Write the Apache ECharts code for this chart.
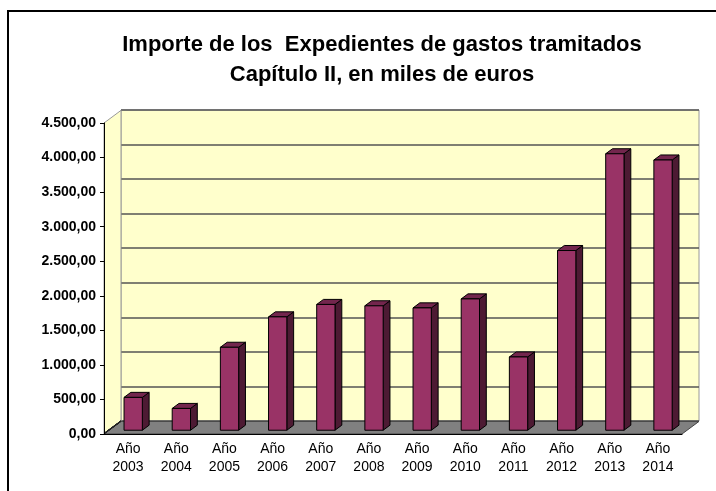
<!DOCTYPE html>
<html>
<head>
<meta charset="utf-8">
<script src="https://cdn.jsdelivr.net/npm/echarts@6/dist/echarts.min.js"></script>
<style>
  html, body { margin: 0; padding: 0; background: #fff; }
  #chart { width: 716px; height: 491px; }
</style>
</head>
<body>
<div id="chart"></div>
<script>
// datos
const years = ['Año\n2003', 'Año\n2004', 'Año\n2005', 'Año\n2006', 'Año\n2007', 'Año\n2008',
               'Año\n2009', 'Año\n2010', 'Año\n2011', 'Año\n2012', 'Año\n2013', 'Año\n2014'];
const importes = [475, 315, 1200, 1640, 1820, 1800, 1770, 1900, 1060, 2600, 4000, 3910];
const yTicks = [0, 500, 1000, 1500, 2000, 2500, 3000, 3500, 4000, 4500];

// fake 3d: offset from the front plane to the back wall
const DX = 17, DY = -12.6;
const BAR_FRONT = 0.3, BAR_DEPTH = 0.4;
const FONT = '"Liberation Sans", Arial, sans-serif';

const fmt = v => {
    const s = String(Math.round(v)).replace(/\B(?=(\d{3})+(?!\d))/g, '.');
    return s + ',00';
};

const renderFrame = (params, api) => {
    const cs = params.coordSys;
    const x0 = cs.x, x1 = cs.x + cs.width, top = cs.y, bot = cs.y + cs.height;
    return {
        type: 'group',
        children: [
            {
                type: 'polygon',
                shape: {points: [[x0, top], [x0, bot], [x0 + DX, bot + DY], [x0 + DX, top + DY]]},
                style: {fill: '#FFFFCC', stroke: '#999', lineWidth: 1}
            },
            {
                type: 'polygon',
                shape: {points: [[x0, bot], [x1, bot], [x1 + DX, bot + DY], [x0 + DX, bot + DY]]},
                style: {fill: '#808080', stroke: '#444', lineWidth: 1}
            }
        ]
    };
};

const renderDepthLine = (params, api) => {
    const v = api.value(0);
    if (v === 0 || v === 4500) return null;
    const x = params.coordSys.x;
    const y = api.coord([0, v])[1];
    return {
        type: 'line',
        shape: {x1: x, y1: y, x2: x + DX, y2: y + DY},
        style: {stroke: '#222', lineWidth: 1}
    };
};

const renderBar = (params, api) => {
    const c = api.coord([api.value(0), api.value(1)]);
    const base = api.coord([api.value(0), 0]);
    const w = api.size([1, 0])[0] * 0.38;
    const x0 = c[0] - w / 2 + DX * BAR_FRONT, x1 = x0 + w;
    const yTop = c[1] + DY * BAR_FRONT, yBot = base[1] + DY * BAR_FRONT;
    const dx = DX * BAR_DEPTH, dy = DY * BAR_DEPTH;
    return {
        type: 'group',
        children: [
            {
                type: 'polygon',
                shape: {points: [[x1, yTop], [x1 + dx, yTop + dy], [x1 + dx, yBot + dy], [x1, yBot]]},
                style: {fill: '#4d1a33', stroke: '#000', lineWidth: 1}
            },
            {
                type: 'polygon',
                shape: {points: [[x0, yTop], [x0 + dx, yTop + dy], [x1 + dx, yTop + dy], [x1, yTop]]},
                style: {fill: '#73264d', stroke: '#000', lineWidth: 1}
            },
            {
                type: 'rect',
                shape: {x: x0, y: yTop, width: w, height: yBot - yTop},
                style: {fill: '#993366', stroke: '#000', lineWidth: 1}
            }
        ]
    };
};

const chart = echarts.init(document.getElementById('chart'));

const options = {
    animation: false,
    title: {
        text: 'Importe de los  Expedientes de gastos tramitados\nCapítulo II, en miles de euros',
        left: 377,
        top: 25,
        textAlign: 'center',
        textStyle: {fontFamily: FONT, fontSize: 22, fontWeight: 'bold', color: '#000', lineHeight: 30}
    },
    graphic: [{
        type: 'rect',
        shape: {x: 8, y: 11, width: 760, height: 520},
        style: {fill: 'none', stroke: '#000', lineWidth: 2}
    }],
    grid: [
        // back wall
        {left: 121, top: 110, width: 578, height: 311, show: true,
         backgroundColor: '#FFFFCC', borderColor: '#999', borderWidth: 1},
        // front plane
        {left: 104, top: 123, width: 578, height: 311}
    ],
    xAxis: [
        {type: 'category', gridIndex: 0, data: years, show: false},
        {
            type: 'category', gridIndex: 1, data: years, z: 5,
            axisLine: {lineStyle: {color: '#000', width: 1}},
            axisTick: {length: 5, lineStyle: {color: '#000'}},
            axisLabel: {interval: 0, fontFamily: FONT, fontSize: 14, color: '#000', lineHeight: 18, margin: 6}
        }
    ],
    yAxis: [
        {
            type: 'value', gridIndex: 0, min: 0, max: 4500, interval: 500,
            axisLine: {show: false}, axisTick: {show: false}, axisLabel: {show: false},
            splitLine: {lineStyle: {color: '#555', width: 1.5}}
        },
        {
            type: 'value', gridIndex: 1, min: 0, max: 4500, interval: 500, z: 5,
            axisLine: {show: true, lineStyle: {color: '#000', width: 1}},
            axisTick: {show: true, length: 4, lineStyle: {color: '#000'}},
            axisLabel: {fontFamily: FONT, fontSize: 14, fontWeight: 'bold', color: '#000', margin: 8, formatter: fmt},
            splitLine: {show: false}
        }
    ],
    series: [
        {
            type: 'custom', name: 'marco', xAxisIndex: 1, yAxisIndex: 1, z: 1,
            renderItem: renderFrame, data: [0], silent: true
        },
        {
            type: 'custom', name: 'profundidad', xAxisIndex: 1, yAxisIndex: 1, z: 2,
            renderItem: renderDepthLine, data: yTicks, silent: true
        },
        {
            type: 'custom', name: 'Importe', xAxisIndex: 1, yAxisIndex: 1, z: 3,
            renderItem: renderBar,
            encode: {x: 0, y: 1},
            data: importes.map((v, i) => [i, v])
        }
    ]
};

chart.setOption(options);
</script>
</body>
</html>
